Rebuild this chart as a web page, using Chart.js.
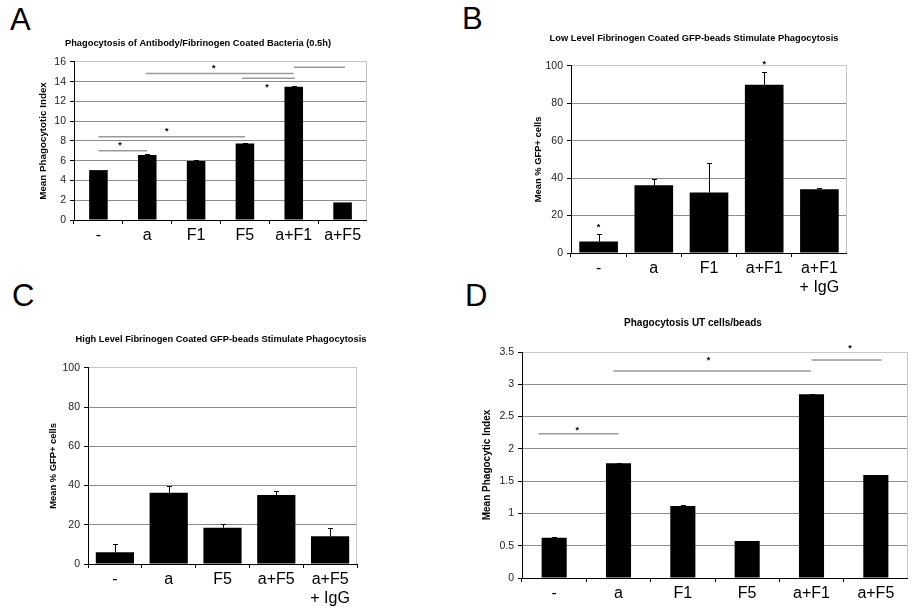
<!DOCTYPE html>
<html>
<head>
<meta charset="utf-8">
<script src="https://cdn.jsdelivr.net/npm/chart.js@4.4.0/dist/chart.umd.min.js"></script>
<style>
  body { margin: 0; background: #fff; width: 921px; height: 612px; overflow: hidden; position: relative; font-family: 'Liberation Sans', Arial, sans-serif; }
  .panel { position: absolute; }
  .letter { position: absolute; font-size: 31px; line-height: 1; color: #000; }
</style>
</head>
<body>
<div class="letter" style="left:10px;top:4px">A</div>
<div class="letter" style="left:462px;top:3px">B</div>
<div class="letter" style="left:12px;top:280px">C</div>
<div class="letter" style="left:465px;top:280px">D</div>

<div class="panel" style="left:0px;top:20px;width:367px;height:240px"><canvas id="chartA"></canvas></div>
<div class="panel" style="left:500px;top:15px;width:347px;height:288px"><canvas id="chartB"></canvas></div>
<div class="panel" style="left:40px;top:315px;width:345px;height:297px"><canvas id="chartC"></canvas></div>
<div class="panel" style="left:470px;top:300px;width:438px;height:312px"><canvas id="chartD"></canvas></div>

<script>
// --- Panel A: antibody/fibrinogen coated bacteria ---
const catsA = ['-', 'a', 'F1', 'F5', 'a+F1', 'a+F5'];
const meanA = [5.05, 6.58, 5.97, 7.74, 13.5, 1.78];
const errA = [0, 0.1, 0.07, 0.07, 0.08, 0];
// significance brackets: [from index, to index, y level]
const sigA = [[0, 1, 7.02], [0, 3, 8.44], [0.97, 4, 14.82], [2.94, 4.02, 14.35], [4, 5.05, 15.46]];
const starsA = [[0.44, 7.76], [1.4, 9.18], [2.36, 15.63], [3.45, 13.7]];

// --- Panel B: low level fibrinogen beads ---
const catsB = ['-', 'a', 'F1', 'a+F1', ['a+F1', '+ IgG']];
const meanB = [6.1, 36.2, 32.3, 90, 34.1];
const errB = [4.3, 3.3, 15.9, 6.8, 0.7];
const starsB = [[0, 14.8], [3, 102.3]];

// --- Panel C: high level fibrinogen beads ---
const catsC = ['-', 'a', 'F5', 'a+F5', ['a+F5', '+ IgG']];
const meanC = [6.0, 36.4, 18.5, 35.2, 14.1];
const errC = [4.4, 3.2, 1.9, 2.2, 4.4];

// --- Panel D: UT cells/beads ---
const catsD = ['-', 'a', 'F1', 'F5', 'a+F1', 'a+F5'];
const meanD = [0.625, 1.776, 1.115, 0.573, 2.845, 1.595];
const errD = [0.01, 0.01, 0.015, 0.005, 0.01, 0.005];
const sigD = [[-0.24, 1.0, 2.235], [0.92, 3.99, 3.206], [4.0, 5.09, 3.376]];
const starsD = [[0.36, 2.33], [2.4, 3.41], [4.6, 3.59]];

const FONT = "'Liberation Sans', Arial, sans-serif";

const errorBarPlugin = {
    id: 'errorBars',
    afterDatasetsDraw(chart, args, opts) {
        const meta = chart.getDatasetMeta(0);
        const y = chart.scales.y;
        const c = chart.ctx;
        c.save();
        c.strokeStyle = '#000';
        c.lineWidth = 1;
        meta.data.forEach((bar, i) => {
            const e = opts.errors[i];
            if (!e) return;
            const top = Math.round(y.getPixelForValue(chart.data.datasets[0].data[i] + e)) + 0.5;
            const bx = Math.round(bar.x) + 0.5;
            c.beginPath();
            c.moveTo(bx, bar.y);
            c.lineTo(bx, top);
            c.moveTo(bx - 2.5, top);
            c.lineTo(bx + 2.5, top);
            c.stroke();
        });
        c.restore();
    }
};

const sigPlugin = {
    id: 'sigMarks',
    afterDatasetsDraw(chart, args, opts) {
        const {x, y} = chart.scales;
        const c = chart.ctx;
        c.save();
        c.strokeStyle = '#9a9a9a';
        c.lineWidth = 1.5;
        (opts.lines || []).forEach(([a, b, v]) => {
            const py = y.getPixelForValue(v);
            c.beginPath();
            c.moveTo(x.getPixelForValue(a), py);
            c.lineTo(x.getPixelForValue(b), py);
            c.stroke();
        });
        c.fillStyle = '#000';
        c.font = 'bold 9px ' + FONT;
        c.textAlign = 'center';
        c.textBaseline = 'alphabetic';
        (opts.stars || []).forEach(([a, v]) => {
            c.fillText('*', x.getPixelForValue(a), y.getPixelForValue(v) + 5);
        });
        c.restore();
    }
};

const borderPlugin = {
    id: 'plotBorder',
    beforeDatasetsDraw(chart) {
        const a = chart.chartArea;
        const c = chart.ctx;
        c.save();
        c.strokeStyle = '#c8c8c8';
        c.lineWidth = 1;
        c.beginPath();
        c.moveTo(Math.round(a.right) - 0.5, a.top);
        c.lineTo(Math.round(a.right) - 0.5, a.bottom);
        c.stroke();
        c.restore();
    }
};

// the figure titles are not centred on the canvas, so nudge the title box sideways
const titleShiftPlugin = {
    id: 'titleShift',
    afterLayout(chart, args, opts) {
        if (chart.titleBlock && opts.shift) {
            chart.titleBlock.left += opts.shift;
            chart.titleBlock.right += opts.shift;
        }
    }
};

function buildPanel(id, p) {
    const ctx = document.getElementById(id).getContext('2d');
    return new Chart(ctx, {
        type: 'bar',
        data: {
            labels: p.labels,
            datasets: [{
                data: p.means,
                backgroundColor: '#000',
                barPercentage: p.barPct,
                categoryPercentage: 1
            }]
        },
        options: {
            responsive: true,
            maintainAspectRatio: false,
            animation: false,
            layout: { padding: { left: 0, top: 0, bottom: 0, right: p.padRight || 0 } },
            plugins: {
                legend: { display: false },
                tooltip: { enabled: false },
                title: {
                    display: true,
                    text: p.title,
                    color: '#000',
                    font: { family: FONT, size: p.titleSize, weight: 'bold', lineHeight: 1.2 },
                    padding: { top: p.titleTop, bottom: p.titleBottom }
                },
                titleShift: { shift: p.titleShift },
                errorBars: { errors: p.errs },
                sigMarks: { lines: p.sig, stars: p.stars }
            },
            scales: {
                x: {
                    grid: { drawOnChartArea: false, drawTicks: true, tickLength: 4, tickColor: '#000', color: '#000' },
                    border: { color: '#000', width: 1 },
                    ticks: { color: '#000', padding: 2, font: { family: FONT, size: 16 } },
                    afterFit: s => { s.height = p.xHeight; }
                },
                y: {
                    min: 0,
                    max: p.yMax,
                    grid: {
                        color: c => (c.tick && c.tick.value === p.yMax) ? '#c8c8c8' : '#8c8c8c',
                        tickLength: 4,
                        tickColor: '#000'
                    },
                    border: { color: '#000', width: 1 },
                    ticks: {
                        stepSize: p.step,
                        color: '#222',
                        padding: 4,
                        font: { family: FONT, size: 10.5 },
                        callback: v => String(Number(v.toFixed(2)))
                    },
                    title: {
                        display: true,
                        text: p.yTitle,
                        color: '#000',
                        font: { family: FONT, size: p.yTitleSize, weight: 'bold' },
                        padding: { top: p.yTitlePad, bottom: 0 }
                    },
                    afterFit: s => { s.width = p.yWidth; }
                }
            }
        },
        plugins: [borderPlugin, errorBarPlugin, sigPlugin, titleShiftPlugin]
    });
}

buildPanel('chartA', {
    labels: catsA, means: meanA, errs: errA, sig: sigA, stars: starsA,
    title: 'Phagocytosis of Antibody/Fibrinogen Coated Bacteria (0.5h)', titleSize: 9.3,
    titleTop: 17.4, titleBottom: 13.4, titleShift: 14.5,
    yTitle: 'Mean Phagocytotic Index', yTitleSize: 9.8, yTitlePad: 37,
    yMax: 16, step: 2, barPct: 0.38,
    yWidth: 74, xHeight: 40
});

buildPanel('chartB', {
    labels: catsB, means: meanB, errs: errB, sig: [], stars: starsB,
    title: 'Low Level Fibrinogen Coated GFP-beads Stimulate Phagocytosis', titleSize: 9.3,
    titleTop: 17.4, titleBottom: 22.4, titleShift: 20.5,
    yTitle: 'Mean % GFP+ cells', yTitleSize: 9.4, yTitlePad: 33,
    yMax: 100, step: 20, barPct: 0.7,
    yWidth: 71, xHeight: 50
});

buildPanel('chartC', {
    labels: catsC, means: meanC, errs: errC, sig: [], stars: [],
    title: 'High Level Fibrinogen Coated GFP-beads Stimulate Phagocytosis', titleSize: 9.3,
    titleTop: 18.4, titleBottom: 23.4, titleShift: 22.5,
    yTitle: 'Mean % GFP+ cells', yTitleSize: 9.4, yTitlePad: 7.3,
    yMax: 100, step: 20, barPct: 0.71,
    padRight: 28, yWidth: 48, xHeight: 48
});

buildPanel('chartD', {
    labels: catsD, means: meanD, errs: errD, sig: sigD, stars: starsD,
    title: 'Phagocytosis UT cells/beads', titleSize: 10,
    titleTop: 17, titleBottom: 23, titleShift: 4,
    yTitle: 'Mean Phagocytic Index', yTitleSize: 10, yTitlePad: 11,
    yMax: 3.5, step: 0.5, barPct: 0.39,
    yWidth: 52, xHeight: 34
});
</script>
</body>
</html>
